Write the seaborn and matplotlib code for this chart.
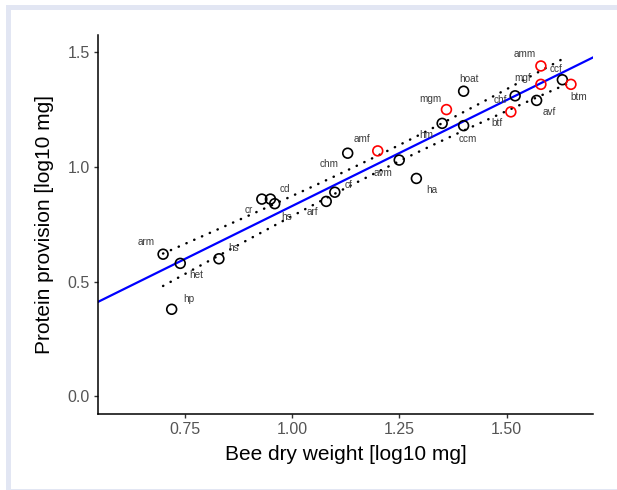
import numpy as np
import pandas as pd
import seaborn as sns
import matplotlib
matplotlib.use('Agg')
import matplotlib.pyplot as plt
from matplotlib.patches import Rectangle

## data
species = ['arm', 'het', 'hp', 'hs', 'cr', 'cd', 'hs', 'arf', 'cf', 'chm', 'amf', 'avm',
           'ha', 'hm', 'mgm', 'hoat', 'ccm', 'btf', 'chf', 'avf', 'mgf', 'amm', 'ccf', 'btm']
bee_weight = [0.70, 0.74, 0.72, 0.83, 0.93, 0.95, 0.96, 1.08, 1.10, 1.13, 1.20, 1.25,
              1.29, 1.35, 1.36, 1.40, 1.40, 1.51, 1.52, 1.57, 1.58, 1.58, 1.63, 1.65]
protein = [0.62, 0.58, 0.38, 0.60, 0.86, 0.86, 0.84, 0.85, 0.89, 1.06, 1.07, 1.03,
           0.95, 1.19, 1.25, 1.33, 1.18, 1.24, 1.31, 1.29, 1.36, 1.44, 1.38, 1.36]
group = ['b', 'b', 'b', 'b', 'b', 'b', 'b', 'b', 'b', 'b', 'r', 'b',
         'b', 'b', 'r', 'b', 'b', 'r', 'b', 'b', 'r', 'r', 'b', 'r']

## label offsets in pixels (right, down)
lab_dx = [-17, 16, 17, 15, -13, 14, 12, -14, 14, -19, -16, -16,
          15, -16, -16, 5, 4, -14, -15, 13, -18, -16, -6, 8]
lab_dy = [-12, 12, -10, -11, 11, -10, 13, 11, -7, 11, -12, 13,
          12, 12, -11, -12, 13, 11, 4, 12, -6, -12, -11, 13]

df = pd.DataFrame({'species': species, 'weight': bee_weight,
                   'protein': protein, 'group': group})

sns.set_style('white')
plt.rcParams['font.family'] = ['Liberation Sans', 'DejaVu Sans']

fig = plt.figure(figsize=(6.17, 4.90), dpi=100)
ax = fig.add_axes([0.1582, 0.1557, 0.8037, 0.7729])
ax.set_xlim(0.5475, 1.7025)
ax.set_ylim(-0.075, 1.575)

## fitted line across the whole panel
sns.regplot(data=df, x='weight', y='protein', scatter=False, ci=None,
            truncate=False, color='#0000FF', line_kws={'lw': 1.6, 'zorder': 2}, ax=ax)

## 95% confidence band of the fit, drawn dotted over the data range
x = np.array(bee_weight)
y = np.array(protein)
n = len(x)
b1, b0 = np.polyfit(x, y, 1)
resid = y - (b0 + b1 * x)
s = np.sqrt(np.sum(resid ** 2) / (n - 2))
sxx = np.sum((x - x.mean()) ** 2)
xg = np.linspace(x.min(), x.max() - 0.01, 100)
half = 2.0739 * s * np.sqrt(1.0 / n + (xg - x.mean()) ** 2 / sxx)
for sign in (1, -1):
    ax.plot(xg, b0 + b1 * xg + sign * half, color='black', lw=1.8,
            linestyle=(0, (0.1, 3.3)), dash_capstyle='round', zorder=2)

sns.scatterplot(data=df, x='weight', y='protein', hue='group',
                palette={'b': 'black', 'r': 'red'}, s=50, linewidth=1.2,
                legend=False, zorder=3, ax=ax)
pts = ax.collections[-1]
pts.set_edgecolors(pts.get_facecolors())
pts.set_facecolors('none')

for i in range(n):
    ax.annotate(species[i], (bee_weight[i], protein[i]),
                xytext=(lab_dx[i], -lab_dy[i]), textcoords='offset pixels',
                ha='center', va='center', fontsize=7.2, color='#3A3A3A')

ax.set_xticks([0.75, 1.00, 1.25, 1.50])
ax.set_xticklabels(['0.75', '1.00', '1.25', '1.50'])
ax.set_yticks([0.0, 0.5, 1.0, 1.5])
ax.set_yticklabels(['0.0', '0.5', '1.0', '1.5'])
ax.tick_params(direction='out', length=3.2, width=1, color='#333333',
               labelcolor='#555555', labelsize=11.5, pad=2.5,
               bottom=True, left=True)
for side in ['top', 'right']:
    ax.spines[side].set_visible(False)
for side in ['left', 'bottom']:
    ax.spines[side].set_color('black')
    ax.spines[side].set_linewidth(1.1)

ax.set_xlabel('Bee dry weight [log10 mg]', fontsize=15, color='black', labelpad=6)
ax.set_ylabel('Protein provision [log10 mg]', fontsize=15, color='black', labelpad=10)

## light frame around the panel
W, H = 617, 490
fig.patches.append(Rectangle((7.5 / W, -0.5 / H), 1.2, (483 / H), transform=fig.transFigure,
                             fill=False, edgecolor='#E2E6F3', lw=3.6, zorder=0))

fig.savefig('out.png', dpi=100)
